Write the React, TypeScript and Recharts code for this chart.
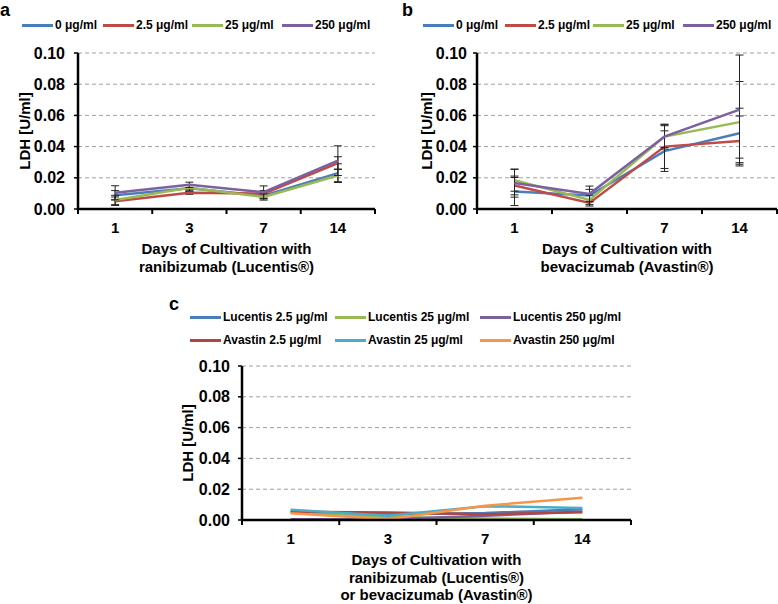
import React from 'react';
import { LineChart, Line, XAxis, YAxis, CartesianGrid, ErrorBar, Label } from 'recharts';

// ---------- shared ----------
const DAYS = ['1', '3', '7', '14'];
const Y_TICKS = [0, 0.02, 0.04, 0.06, 0.08, 0.1];
const Y_LABEL = 'LDH [U/ml]';

// ---------- panel a (ranibizumab / Lucentis) ----------
const A_NAMES = ['0 μg/ml', '2.5 μg/ml', '25 μg/ml', '250 μg/ml'];
const A_0 = [0.0088, 0.0133, 0.0085, 0.023];
const A_2_5 = [0.005, 0.0104, 0.0098, 0.0295];
const A_25 = [0.0058, 0.0136, 0.0077, 0.0215];
const A_250 = [0.0104, 0.0155, 0.0108, 0.031];
const A_0_SD = [0.003, 0.002, 0.002, 0.006];
const A_2_5_SD = [0.0027, 0.001, 0.002, 0.004];
const A_25_SD = [0.003, 0.0015, 0.002, 0.004];
const A_250_SD = [0.0045, 0.0017, 0.004, 0.0095];
const A_TITLE = ['Days of Cultivation with', 'ranibizumab (Lucentis®)'];

// ---------- panel b (bevacizumab / Avastin) ----------
const B_NAMES = ['0 μg/ml', '2.5 μg/ml', '25 μg/ml', '250 μg/ml'];
const B_0 = [0.0112, 0.0086, 0.0371, 0.0486];
const B_2_5 = [0.0151, 0.0039, 0.04, 0.0436];
const B_25 = [0.0184, 0.0058, 0.0464, 0.0557];
const B_250 = [0.0166, 0.0097, 0.0464, 0.0637];
const B_0_SD = [0.009, 0.004, 0.013, 0.016];
const B_2_5_SD = [0.006, 0.002, 0.014, 0.016];
const B_25_SD = [0.007, 0.003, 0.007, 0.026];
const B_250_SD = [0.009, 0.005, 0.008, 0.035];
const B_TITLE = ['Days of Cultivation with', 'bevacizumab (Avastin®)'];

// ---------- panel c ----------
const C_NAMES = [
  'Lucentis 2.5 μg/ml',
  'Lucentis 25 μg/ml',
  'Lucentis 250 μg/ml',
  'Avastin 2.5 μg/ml',
  'Avastin 25 μg/ml',
  'Avastin 250 μg/ml',
];
const C_L2_5 = [0.0055, 0.0035, 0.0045, 0.007];
const C_L25 = [0.005, 0.002, 0.001, 0.0005];
const C_L250 = [0.0005, 0.0005, 0.0027, 0.0055];
const C_A2_5 = [0.0053, 0.0049, 0.0038, 0.005];
const C_A25 = [0.0067, 0.0027, 0.009, 0.0078];
const C_A250 = [0.0044, 0.0005, 0.0093, 0.0145];
const C_TITLE = ['Days of Cultivation with', 'ranibizumab (Lucentis®)', 'or bevacizumab (Avastin®)'];

// ---------- styles ----------
const FONT = '"Liberation Sans", Arial, Helvetica, sans-serif';
const BLUE = '#4a7ebb';
const RED = '#be4b48';
const GREEN = '#98b954';
const PURPLE = '#7d60a0';
const TEAL = '#4bacc6';
const ORANGE = '#f79646';
const C_RED = '#b04541';

const X_TICKS: number[] = [];
for (let i = 0; i <= DAYS.length * 2; i++) X_TICKS.push(i / 2);

const rowsAB = (s: number[][], e: number[][]) =>
  DAYS.map((day, i) => {
    const r: any = { x: i + 0.5, day };
    s.forEach((arr, k) => (r['s' + k] = arr[i]));
    e.forEach((arr, k) => (r['e' + k] = arr[i]));
    return r;
  });

const ROWS_A = rowsAB([A_0, A_2_5, A_25, A_250], [A_0_SD, A_2_5_SD, A_25_SD, A_250_SD]);
const ROWS_B = rowsAB([B_0, B_2_5, B_25, B_250], [B_0_SD, B_2_5_SD, B_25_SD, B_250_SD]);
const ROWS_C = rowsAB([C_L2_5, C_L25, C_L250, C_A2_5, C_A25, C_A250], []);

const XTick = (props: any) => {
  const { x, y, payload } = props;
  const v = payload.value as number;
  if (Number.isInteger(v)) {
    return <line x1={x} x2={x} y1={y} y2={y + 5} stroke="#000" strokeWidth={2} />;
  }
  return (
    <text x={x} y={y + 24} textAnchor="middle" fontFamily={FONT} fontWeight="bold" fontSize={15} fill="#000">
      {DAYS[Math.floor(v)]}
    </text>
  );
};

type Series = { key: string; err?: string; color: string };

type PanelProps = {
  left: number;
  top: number;
  width: number;
  height: number;
  plotLeft: number;
  plotRight: number;
  plotTop: number;
  plotBottom: number;
  yTickMargin: number;
  yLabelX: number;
  rows: any[];
  series: Series[];
  title: string[];
};

const Panel = (p: PanelProps) => {
  const yAxisWidth = 60;
  const margin = {
    top: p.plotTop,
    left: p.plotLeft - yAxisWidth,
    right: p.width - p.plotRight,
    bottom: 0,
  };
  const xAxisHeight = p.height - p.plotBottom;
  const yLabelDx = p.yLabelX - (p.plotLeft - yAxisWidth / 2);
  return (
    <div style={{ position: 'absolute', left: p.left, top: p.top }}>
      <LineChart width={p.width} height={p.height} data={p.rows} margin={margin}>
        <CartesianGrid vertical={false} stroke="#a0a0a0" strokeDasharray="4 3" strokeWidth={1} />
        <XAxis
          type="number"
          dataKey="x"
          domain={[0, DAYS.length]}
          ticks={X_TICKS}
          interval={0}
          tick={<XTick />}
          tickLine={false}
          tickSize={0}
          tickMargin={0}
          height={xAxisHeight}
          axisLine={{ stroke: '#000', strokeWidth: 2.5 }}
          allowDecimals
        >
          {p.title.map((t, i) => (
            <Label
              key={i}
              value={t}
              position="insideTop"
              offset={34.5 + i * 17.5}
              style={{ fontFamily: FONT, fontWeight: 'bold', fontSize: 15, fill: '#000' }}
            />
          ))}
        </XAxis>
        <YAxis
          type="number"
          domain={[0, 0.1]}
          ticks={Y_TICKS}
          interval={0}
          width={yAxisWidth}
          tickFormatter={(v: number) => v.toFixed(2)}
          tickSize={4}
          tickMargin={p.yTickMargin}
          tickLine={{ stroke: '#000', strokeWidth: 1.5 }}
          axisLine={{ stroke: '#000', strokeWidth: 2.5 }}
          tick={{ fontFamily: FONT, fontWeight: 'bold', fontSize: 16, fill: '#000' }}
        >
          <Label
            value={Y_LABEL}
            angle={-90}
            position="center"
            dx={yLabelDx}
            style={{ fontFamily: FONT, fontWeight: 'bold', fontSize: 15, fill: '#000', textAnchor: 'middle' }}
          />
        </YAxis>
        {p.series.map((s) => (
          <Line
            key={s.key}
            dataKey={s.key}
            stroke={s.color}
            strokeWidth={2.5}
            dot={false}
            activeDot={false}
            isAnimationActive={false}
          >
            {s.err ? (
              <ErrorBar dataKey={s.err} direction="y" width={4} stroke="#222" strokeWidth={1} />
            ) : null}
          </Line>
        ))}
      </LineChart>
    </div>
  );
};

const LegendItem = ({ x, y, color, text }: { x: number; y: number; color: string; text: string }) => (
  <div
    style={{
      position: 'absolute',
      left: x,
      top: y - 8,
      height: 16,
      display: 'flex',
      alignItems: 'center',
      whiteSpace: 'nowrap',
      fontFamily: FONT,
      fontWeight: 'bold',
      fontSize: 12,
      color: '#000',
    }}
  >
    <div style={{ width: 31, height: 3, background: color, marginRight: 2 }} />
    <span>{text}</span>
  </div>
);

const Letter = ({ x, y, t }: { x: number; y: number; t: string }) => (
  <div
    style={{
      position: 'absolute',
      left: x,
      top: y,
      fontFamily: FONT,
      fontWeight: 'bold',
      fontSize: 18,
      lineHeight: '21px',
      color: '#000',
    }}
  >
    {t}
  </div>
);

const AB_COLORS = [BLUE, RED, GREEN, PURPLE];
const C_COLORS = [BLUE, GREEN, PURPLE, C_RED, TEAL, ORANGE];

const A_LEGEND_X = [22, 103, 192, 282];
const B_LEGEND_X = [423, 505, 593, 683];
const C_LEGEND_X = [190, 335, 480];
const C_LEGEND_Y = [317, 340];

export default function App() {
  const abSeries: Series[] = AB_COLORS.map((c, k) => ({ key: 's' + k, err: 'e' + k, color: c }));
  const cSeries: Series[] = C_COLORS.map((c, k) => ({ key: 's' + k, color: c }));
  return (
    <div
      style={{
        position: 'absolute',
        left: 0,
        top: 0,
        width: 778,
        height: 604,
        background: '#fff',
        overflow: 'hidden',
      }}
    >
      <Panel
        left={0}
        top={0}
        width={390}
        height={290}
        plotLeft={78}
        plotRight={375}
        plotTop={53}
        plotBottom={209}
        yTickMargin={9}
        yLabelX={25}
        rows={ROWS_A}
        series={abSeries}
        title={A_TITLE}
      />
      <Panel
        left={390}
        top={0}
        width={388}
        height={290}
        plotLeft={87}
        plotRight={387}
        plotTop={53}
        plotBottom={209}
        yTickMargin={6}
        yLabelX={37}
        rows={ROWS_B}
        series={abSeries}
        title={B_TITLE}
      />
      <Panel
        left={180}
        top={290}
        width={460}
        height={314}
        plotLeft={62}
        plotRight={451}
        plotTop={76}
        plotBottom={230}
        yTickMargin={8}
        yLabelX={8}
        rows={ROWS_C}
        series={cSeries}
        title={C_TITLE}
      />
      {A_NAMES.map((n, i) => (
        <LegendItem key={'a' + i} x={A_LEGEND_X[i]} y={25} color={AB_COLORS[i]} text={n} />
      ))}
      {B_NAMES.map((n, i) => (
        <LegendItem key={'b' + i} x={B_LEGEND_X[i]} y={25} color={AB_COLORS[i]} text={n} />
      ))}
      {C_NAMES.map((n, i) => (
        <LegendItem
          key={'c' + i}
          x={C_LEGEND_X[i % 3]}
          y={C_LEGEND_Y[Math.floor(i / 3)]}
          color={C_COLORS[i]}
          text={n}
        />
      ))}
      <Letter x={0} y={0} t="a" />
      <Letter x={402} y={0} t="b" />
      <Letter x={169} y={294} t="c" />
    </div>
  );
}
